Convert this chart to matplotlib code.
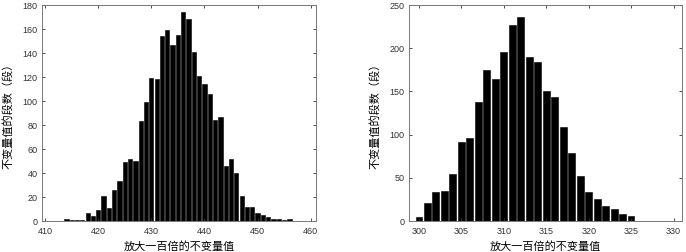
import numpy as np
import matplotlib
matplotlib.use('Agg')
import matplotlib.pyplot as plt

plt.rcParams['font.family'] = ['Liberation Sans', 'DejaVu Sans']

# left histogram: values 410..459
left_vals = list(range(410, 460))
left_counts = [0, 0, 0, 0, 2, 1, 1, 1, 7, 4,
               9, 21, 11, 26, 33, 49, 52, 50, 83, 99,
               119, 118, 154, 159, 147, 155, 174, 168, 141, 121,
               114, 106, 84, 87, 46, 52, 40, 21, 12, 12,
               7, 5, 3, 2, 2, 1, 2, 0, 0, 0]
left_ticks = [410, 420, 430, 440, 450, 460]
left_yticks = list(range(0, 181, 20))

# right histogram: values 300..330
right_vals = list(range(300, 331))
right_counts = [5, 21, 33, 35, 54, 92, 96, 138, 175, 164,
                196, 227, 236, 190, 184, 150, 143, 109, 79, 52,
                34, 26, 17, 14, 8, 6, 0, 0, 0, 0, 0]
right_ticks = [300, 305, 310, 315, 320, 325, 330]
right_yticks = list(range(0, 251, 50))

xlabel_text = '放大一百倍的不变量值'
ylabel_text = '不变量值的段数（段）'
cjk = ['Noto Sans CJK SC', 'DejaVu Sans']


def draw_hist(ax, vals, counts, xticks, yticks, xlim, ypad):
    ax.bar(vals, counts, width=0.8, color='black', edgecolor='black', linewidth=0.4)
    ax.set_xlim(*xlim)
    ax.set_ylim(yticks[0], yticks[-1])
    ax.set_xticks(xticks)
    ax.set_yticks(yticks)
    ax.tick_params(direction='in', length=2.5, width=0.6, labelsize=6.5,
                   colors='#333333', top=True, right=True, pad=3)
    ax.tick_params(axis='x', pad=4)
    for s in ax.spines.values():
        s.set_color('#777777')
        s.set_linewidth(0.7)
    ax.set_xlabel(xlabel_text, family=cjk, fontsize=8, labelpad=4)
    ax.set_ylabel(ylabel_text, family=cjk, fontsize=8, labelpad=ypad)


fig = plt.figure(figsize=(6.86, 2.52), dpi=100)
ax1 = fig.add_axes([0.0612, 0.123, 0.3994, 0.857])
ax2 = fig.add_axes([0.5958, 0.123, 0.3984, 0.857])

draw_hist(ax1, left_vals, left_counts, left_ticks, left_yticks, (409.4, 461), 7)
draw_hist(ax2, right_vals, right_counts, right_ticks, right_yticks, (298.8, 331), 7)

fig.savefig('out.png', dpi=100)
